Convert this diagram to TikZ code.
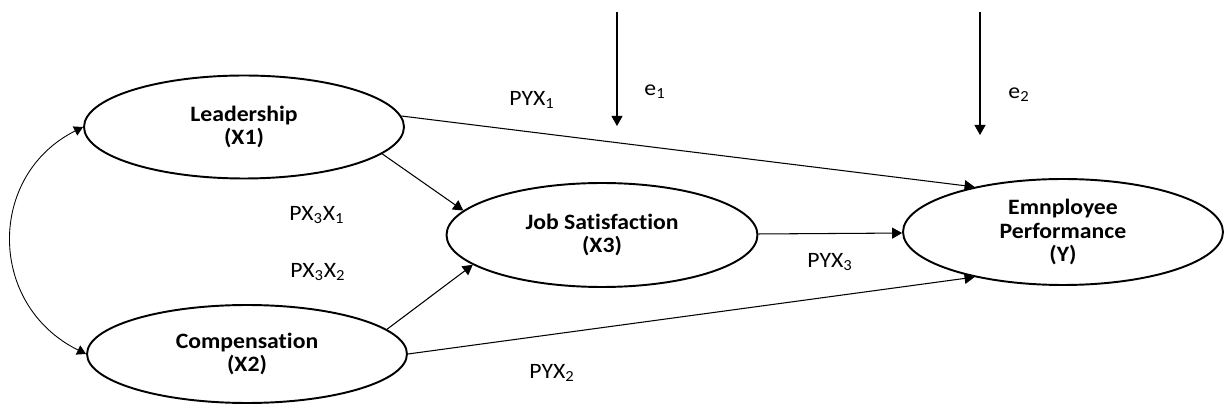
\documentclass[tikz,border=0pt]{standalone}
\usepackage{fontspec}
\setmainfont{Carlito}[FakeStretch=1.08, Ligatures=NoCommon]
\usepackage{tikz}
\usetikzlibrary{arrows.meta, positioning, shapes.geometric}

\begin{document}
\begin{tikzpicture}[
    x=0.02cm, y=-0.02cm,
    latent/.style={draw, ellipse, line width=1.1pt, minimum width=6.4cm, minimum height=2.06cm,
      inner sep=0pt, align=center, font=\fontsize{12.5}{13.6}\selectfont\bfseries},
    arr/.style={-{Triangle[length=2mm, width=2.2mm]}, line width=0.6pt},
    lbl/.style={font=\fontsize{12.5}{12.5}\selectfont}
  ]
  \useasboundingbox (0,0) rectangle (1224,408);
  % latent variables
  \node[latent] (lead) at (244,127) {Leadership\\(X1)};
  \node[latent, minimum height=1.96cm] (comp) at (247,354) {Compensation\\(X2)};
  \node[latent, minimum width=6.22cm, minimum height=2.08cm] (jobsat) at (602,235) {Job Satisfaction\\(X3)};
  \node[latent, minimum height=2.12cm] (perf) at (1063,232) {Emnployee\\Performance\\(Y)};
  % paths
  \draw[arr] (lead.4) -- (perf.153);
  \draw[arr] (lead.-11) -- (jobsat.170);
  \draw[arr] (comp.10) -- (jobsat.-167);
  \draw[arr] (comp.east) -- (perf.-153);
  \draw[arr] (jobsat) -- (perf);
  \draw[{Triangle[length=1.8mm, width=2mm]}-{Triangle[length=1.8mm, width=2mm]}, line width=0.5pt]
    (lead.west) .. controls +(-96,48) and +(-99,-49) .. (comp.west);
  % error terms
  \coordinate (e1top) at (617,12);
  \coordinate (e1tip) at (617,126);
  \coordinate (e2top) at (980,12);
  \coordinate (e2tip) at (980,135);
  \draw[arr] (e1top) -- (e1tip);
  \draw[arr] (e2top) -- (e2tip);
  \node[lbl] (e1) at (655,92) {e\textsubscript{1}};
  \node[lbl] (e2) at (1019,95) {e\textsubscript{2}};
  % coefficients
  \node[lbl] (pyx1) at (532,100) {PYX\textsubscript{1}};
  \node[lbl] (px3x1) at (317,215) {PX\textsubscript{3}X\textsubscript{1}};
  \node[lbl] (px3x2) at (318,272) {PX\textsubscript{3}X\textsubscript{2}};
  \node[lbl] (pyx3) at (830,262) {PYX\textsubscript{3}};
  \node[lbl] (pyx2) at (552,373) {PYX\textsubscript{2}};
\end{tikzpicture}
\end{document}
